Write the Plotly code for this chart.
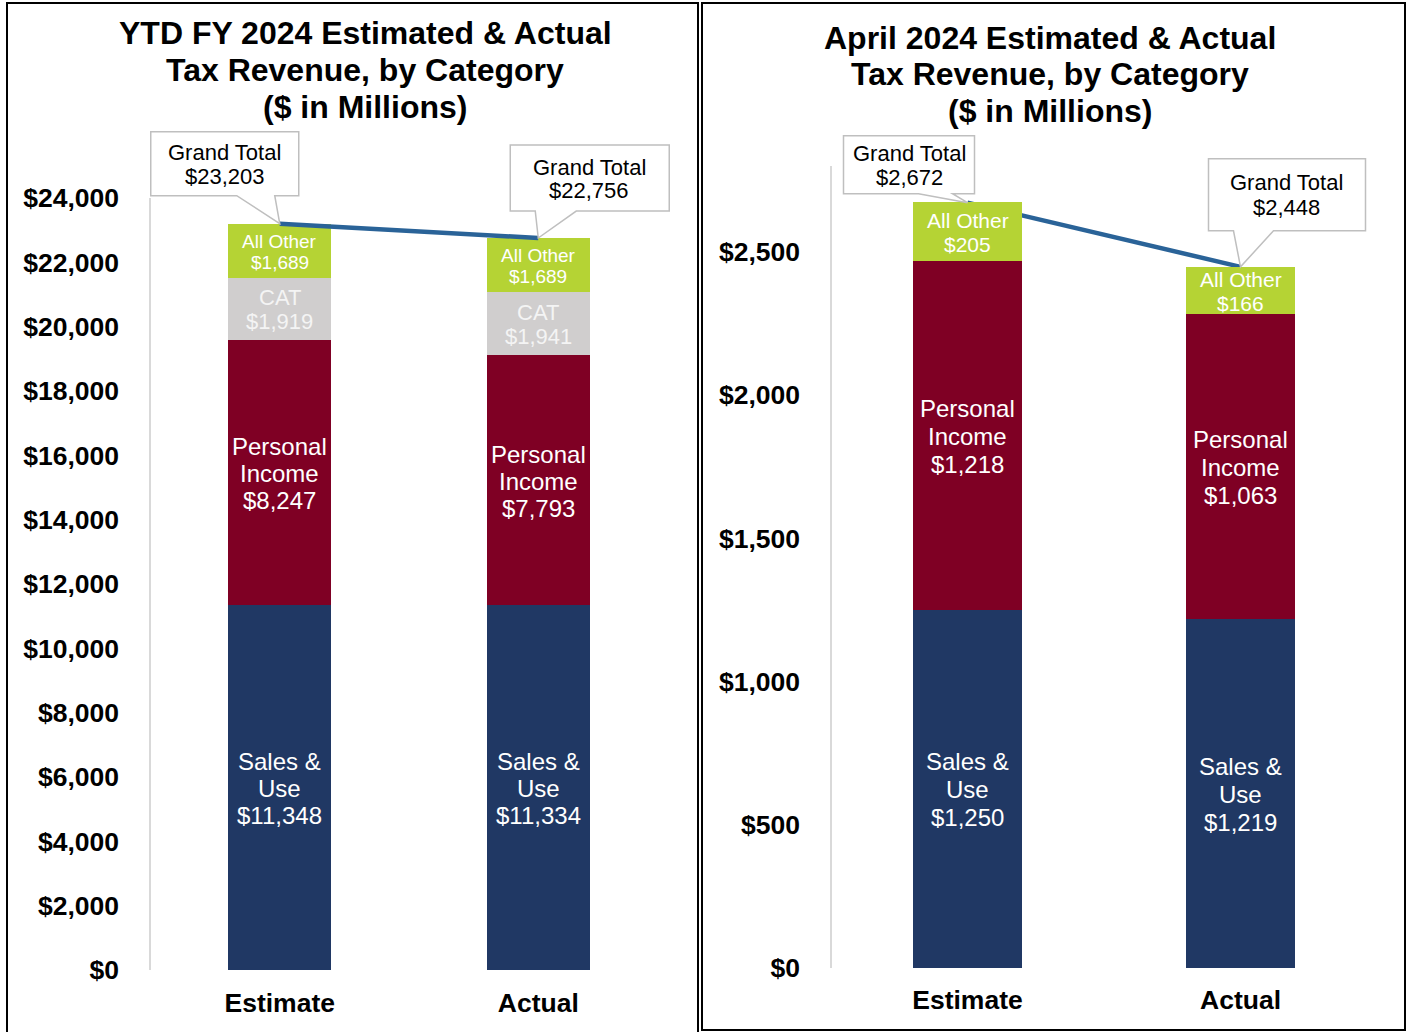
import plotly.graph_objects as go

# ---------------- data ----------------
categories = ["Estimate", "Actual"]

ytd_sales = [11348, 11334]
ytd_personal = [8247, 7793]
ytd_cat = [1919, 1941]
ytd_other = [1689, 1689]
ytd_total = [23203, 22756]

apr_sales = [1250, 1219]
apr_personal = [1218, 1063]
apr_other = [205, 166]
apr_total = [2672, 2448]

ytd_tickvals = [0, 2000, 4000, 6000, 8000, 10000, 12000, 14000, 16000, 18000, 20000, 22000, 24000]
apr_tickvals = [0, 500, 1000, 1500, 2000, 2500]
ytd_axis_max = 24000
apr_axis_max = 2800

ytd_title = ["YTD FY 2024 Estimated & Actual", "Tax Revenue, by Category", "($ in Millions)"]
apr_title = ["April 2024 Estimated & Actual", "Tax Revenue, by Category", "($ in Millions)"]

# ---------------- styles ----------------
FONT = "Liberation Sans, Arial, sans-serif"
NAVY = "#203864"
RED = "#7F0024"
GRAY = "#D0CECE"
GREEN = "#B5D334"
LINE_BLUE = "#2A6398"
AXIS_GRAY = "#D9D9D9"
CALLOUT_GRAY = "#BFBFBF"

W, H = 1410, 1032


def px_x(p):
    return p / W


def px_y(p):
    return 1 - p / H


# plot-area geometry (pixels): bottom (value 0), pixel of axis max, and extended top
L_BOT, L_MAXPX, R_BOT, R_MAXPX, TOP = 970, 198, 968, 166, 120
l_scale = ytd_axis_max / (L_BOT - L_MAXPX)
r_scale = apr_axis_max / (R_BOT - R_MAXPX)
l_range_top = (L_BOT - TOP) * l_scale
r_range_top = (R_BOT - TOP) * r_scale

fig = go.Figure()

# ---------------- YTD (left) ----------------
for name, vals, col in [("Sales & Use", ytd_sales, NAVY),
                        ("Personal Income", ytd_personal, RED),
                        ("CAT", ytd_cat, GRAY),
                        ("All Other", ytd_other, GREEN)]:
    fig.add_trace(go.Bar(x=categories, y=vals, marker=dict(color=col, line=dict(width=0)),
                         width=0.4, xaxis="x", yaxis="y", showlegend=False, hoverinfo="skip"))
fig.add_trace(go.Scatter(x=categories, y=ytd_total, mode="lines",
                         line=dict(color=LINE_BLUE, width=4.5),
                         xaxis="x", yaxis="y", showlegend=False, hoverinfo="skip", zorder=1))

# ---------------- April (right) ----------------
fig.add_trace(go.Scatter(x=categories, y=apr_total, mode="lines",
                         line=dict(color=LINE_BLUE, width=4.5),
                         xaxis="x2", yaxis="y2", showlegend=False, hoverinfo="skip", zorder=-1))
for name, vals, col in [("Sales & Use", apr_sales, NAVY),
                        ("Personal Income", apr_personal, RED),
                        ("All Other", apr_other, GREEN)]:
    fig.add_trace(go.Bar(x=categories, y=vals, marker=dict(color=col, line=dict(width=0)),
                         width=0.4, xaxis="x2", yaxis="y2", showlegend=False, hoverinfo="skip"))

annotations = []


def seg_labels(xr, yr, bases, values, header, size, spacing, color="white"):
    for i, cat in enumerate(categories):
        yc = bases[i] + values[i] / 2
        lines = header + [f"${values[i]:,}"]
        n = len(lines)
        for k, t in enumerate(lines):
            annotations.append(dict(
                x=cat, y=yc, xref=xr, yref=yr, text=t, showarrow=False,
                yshift=((n - 1) / 2 - k) * spacing - 1,
                font=dict(family=FONT, size=size, color=color),
                xanchor="center", yanchor="middle"))


zero = [0, 0]
ytd_b2 = [ytd_sales[i] + ytd_personal[i] for i in range(2)]
ytd_b3 = [ytd_b2[i] + ytd_cat[i] for i in range(2)]
seg_labels("x", "y", zero, ytd_sales, ["Sales &", "Use"], 24, 27)
seg_labels("x", "y", ytd_sales, ytd_personal, ["Personal", "Income"], 24, 27)
seg_labels("x", "y", ytd_b2, ytd_cat, ["CAT"], 22, 24, "#F4F4F4")
seg_labels("x", "y", ytd_b3, ytd_other, ["All Other"], 19, 21)

apr_b2 = [apr_sales[i] + apr_personal[i] for i in range(2)]
seg_labels("x2", "y2", zero, apr_sales, ["Sales &", "Use"], 24, 28)
seg_labels("x2", "y2", apr_sales, apr_personal, ["Personal", "Income"], 24, 28)
seg_labels("x2", "y2", apr_b2, apr_other, ["All Other"], 21, 24)

# ---------------- callouts ----------------
shapes = []
# (xref, yref, category index, total, box x0, x1, box y bottom, top, wedge w0, w1, text xshift, line yshifts)
callouts = [
    ("x", "y", 0, ytd_total[0], -129, 19, 28, 92, -43, -5, -55, (71, 47)),
    ("x", "y", 1, ytd_total[1], -28, 131, 27, 93, -3, 38, 51, (71, 48)),
    ("x2", "y2", 0, apr_total[0], -124, 7, 9, 67, -49, -15, -58, (49, 25)),
    ("x2", "y2", 1, apr_total[1], -32, 125, 36, 108, -7, 33, 46, (84, 59)),
]
for xr, yr, i, tot, x0, x1, yb, yt, w0, w1, tx, tys in callouts:
    path = (f"M {x0},{yb} L {w0},{yb} L 0,0 L {w1},{yb} L {x1},{yb} "
            f"L {x1},{yt} L {x0},{yt} Z")
    shapes.append(dict(type="path", xref=xr, yref=yr, xsizemode="pixel", ysizemode="pixel",
                       xanchor=i, yanchor=tot, path=path, fillcolor="white",
                       line=dict(color=CALLOUT_GRAY, width=1.5), layer="above"))
    for t, ys in zip(["Grand Total", f"${tot:,}"], tys):
        annotations.append(dict(x=categories[i], y=tot, xref=xr, yref=yr, text=t,
                                showarrow=False, xshift=tx, yshift=ys,
                                font=dict(family=FONT, size=22, color="black"),
                                xanchor="center", yanchor="middle"))

# ---------------- value axis lines (only up to the axis maximum) ----------------
shapes.append(dict(type="line", xref="x domain", yref="y", x0=0, x1=0, y0=0, y1=ytd_axis_max,
                   line=dict(color=AXIS_GRAY, width=2), layer="below"))
shapes.append(dict(type="line", xref="x2 domain", yref="y2", x0=0, x1=0, y0=0, y1=apr_axis_max,
                   line=dict(color=AXIS_GRAY, width=2), layer="below"))

# ---------------- titles (one annotation per line) ----------------
for lines, cx, ys in [(ytd_title, 365, (33, 70, 107)), (apr_title, 1050, (38, 74, 111))]:
    for t, yy in zip(lines, ys):
        annotations.append(dict(x=px_x(cx), y=px_y(yy), xref="paper", yref="paper", text=t,
                                showarrow=False, xanchor="center", yanchor="middle",
                                font=dict(family=FONT, size=32, color="black", weight=700)))

# ---------------- panel borders ----------------
shapes.append(dict(type="path", xref="paper", yref="paper",
                   path=f"M {px_x(7)},0 L {px_x(7)},{px_y(3)} L {px_x(698)},{px_y(3)} L {px_x(698)},0",
                   line=dict(color="black", width=2), layer="above"))
shapes.append(dict(type="rect", xref="paper", yref="paper",
                   x0=px_x(702), x1=px_x(1405), y0=px_y(1030), y1=px_y(3),
                   line=dict(color="black", width=2), layer="above"))

tickfont = dict(family=FONT, size=26.5, color="black", weight=700)

fig.update_layout(
    width=W, height=H,
    margin=dict(l=0, r=0, t=0, b=0, autoexpand=False),
    paper_bgcolor="white", plot_bgcolor="white",
    barmode="stack",
    annotations=annotations,
    shapes=shapes,
    xaxis=dict(domain=[px_x(150), px_x(670)], anchor="y", type="category",
               showline=True, linecolor=AXIS_GRAY, linewidth=2, showgrid=False,
               ticks="", tickfont=tickfont, ticklabelstandoff=8, fixedrange=True),
    yaxis=dict(domain=[px_y(L_BOT), px_y(TOP)], anchor="x", range=[0, l_range_top],
               tickvals=ytd_tickvals, ticktext=[f"${v:,}" for v in ytd_tickvals],
               showline=False, showgrid=False,
               zeroline=False, ticks="", tickfont=tickfont, ticklabelstandoff=30,
               fixedrange=True),
    xaxis2=dict(domain=[px_x(831), px_x(1377)], anchor="y2", type="category",
                showline=True, linecolor=AXIS_GRAY, linewidth=2, showgrid=False,
                ticks="", tickfont=tickfont, ticklabelstandoff=7, fixedrange=True),
    yaxis2=dict(domain=[px_y(R_BOT), px_y(TOP)], anchor="x2", range=[0, r_range_top],
                tickvals=apr_tickvals, ticktext=[f"${v:,}" for v in apr_tickvals],
                showline=False, showgrid=False,
                zeroline=False, ticks="", tickfont=tickfont, ticklabelstandoff=30,
                fixedrange=True),
)

fig.write_html("out.html", config={"displayModeBar": False},
               post_script="document.body.style.margin='0';document.body.style.overflow='hidden';")
